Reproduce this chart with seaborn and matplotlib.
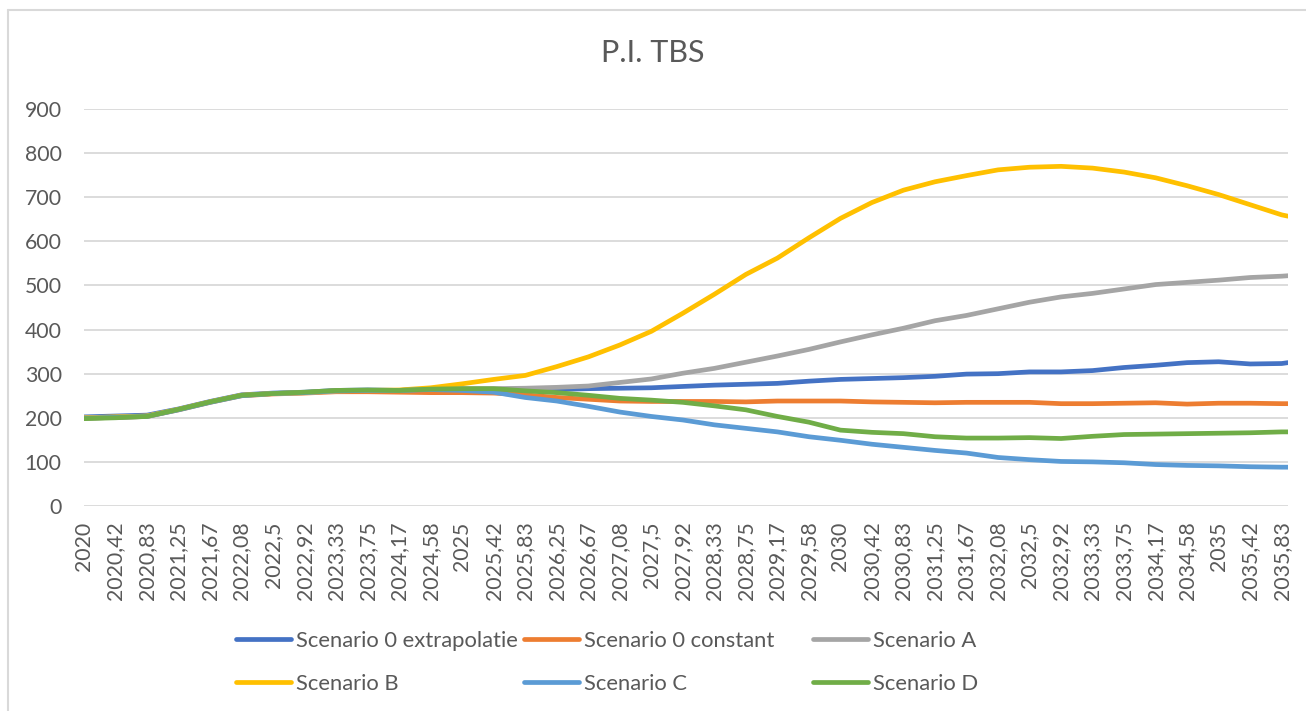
import matplotlib
matplotlib.use("Agg")
import matplotlib.pyplot as plt
from matplotlib.lines import Line2D
import numpy as np
import pandas as pd
import seaborn as sns

# Months since January 2020 at which each scenario is sampled
months = [0, 5, 10, 15, 20, 25, 30, 35, 40, 45, 50, 55, 60, 65, 70, 75, 80, 85, 90, 95,
          100, 105, 110, 115, 120, 125, 130, 135, 140, 145, 150, 155, 160, 165, 170, 175,
          180, 185, 190, 191]

tick_months = list(range(0, 191, 5))
tick_labels = ["2020", "2020,42", "2020,83", "2021,25", "2021,67", "2022,08", "2022,5",
               "2022,92", "2023,33", "2023,75", "2024,17", "2024,58", "2025", "2025,42",
               "2025,83", "2026,25", "2026,67", "2027,08", "2027,5", "2027,92", "2028,33",
               "2028,75", "2029,17", "2029,58", "2030", "2030,42", "2030,83", "2031,25",
               "2031,67", "2032,08", "2032,5", "2032,92", "2033,33", "2033,75", "2034,17",
               "2034,58", "2035", "2035,42", "2035,83"]

scen_0_extrapolatie = [202, 204, 206, 220, 237, 252, 256, 258, 262, 263, 262, 265, 265, 262,
                       262, 264, 266, 267, 268, 271, 274, 276, 278, 283, 287, 289, 291, 294,
                       299, 300, 304, 304, 307, 314, 319, 325, 327, 322, 323, 325]
scen_0_constant = [199, 201, 203, 218, 235, 250, 254, 256, 259, 259, 258, 257, 257, 256,
                   252, 246, 242, 238, 237, 237, 237, 236, 238, 238, 238, 236, 235, 234,
                   235, 235, 235, 232, 232, 233, 234, 231, 233, 233, 232, 232]
scen_a = [200, 202, 204, 219, 236, 251, 255, 257, 261, 262, 262, 265, 266, 266, 267, 269,
          272, 280, 288, 301, 312, 326, 340, 355, 372, 388, 403, 420, 432, 447, 462, 474,
          482, 492, 502, 507, 512, 518, 521, 522]
scen_b = [200, 202, 204, 219, 236, 251, 255, 257, 261, 262, 263, 268, 277, 287, 296, 316,
          338, 365, 396, 437, 480, 525, 562, 608, 652, 688, 716, 735, 749, 762, 768, 770,
          766, 757, 744, 726, 706, 683, 660, 657]
scen_c = [199, 201, 203, 218, 235, 250, 255, 257, 261, 262, 262, 264, 262, 258, 246, 238,
          226, 213, 203, 195, 184, 176, 168, 157, 149, 140, 133, 126, 120, 110, 105, 101,
          100, 98, 94, 92, 91, 89, 88, 88]
scen_d = [198, 200, 203, 219, 236, 251, 255, 258, 262, 263, 262, 265, 266, 266, 261, 257,
          251, 244, 240, 235, 227, 218, 203, 190, 172, 167, 164, 157, 154, 154, 155, 153,
          158, 162, 163, 164, 165, 166, 168, 168]

names = ["Scenario 0 extrapolatie", "Scenario 0 constant", "Scenario A",
         "Scenario B", "Scenario C", "Scenario D"]
values = [scen_0_extrapolatie, scen_0_constant, scen_a, scen_b, scen_c, scen_d]
colors = ["#4472C4", "#ED7D31", "#A5A5A5", "#FFC000", "#5B9BD5", "#70AD47"]

df = pd.concat(
    [pd.DataFrame({"month": months, "value": v, "scenario": n}) for n, v in zip(names, values)],
    ignore_index=True,
)

sns.set_theme(style="white")
plt.rcParams["font.family"] = ["Lato", "DejaVu Sans"]

W, H = 1306, 711
fig = plt.figure(figsize=(W / 100, H / 100), dpi=100)
ax = fig.add_axes([84 / W, 1 - 506 / H, (1288 - 84) / W, (506 - 109) / H])

sns.lineplot(data=df, x="month", y="value", hue="scenario", hue_order=names,
             palette=dict(zip(names, colors)), linewidth=3.4, legend=False,
             errorbar=None, sort=False, ax=ax,
             solid_capstyle="round", solid_joinstyle="round")

grey_txt = "#595959"
ax.set_xlim(0, 191)
ax.set_ylim(0, 900)
ax.set_yticks(range(0, 1000, 100))
ax.set_xticks(tick_months)
ax.set_xticklabels(tick_labels, rotation=90)
ax.set_xlabel("")
ax.set_ylabel("")
ax.yaxis.grid(True, color="#D9D9D9", linewidth=1.3)
ax.xaxis.grid(False)
ax.set_axisbelow(True)
for s in ax.spines.values():
    s.set_visible(False)
ax.tick_params(axis="both", length=0, labelsize=15.3, colors=grey_txt)
ax.tick_params(axis="y", pad=16)
ax.tick_params(axis="x", pad=11)

fig.text(0.5, 1 - 53 / H, "P.I. TBS", ha="center", va="center", fontsize=22, color=grey_txt)

# Legend: three columns of two entries each
handles = ax.get_lines()[:len(names)]
col_x = [236, 524, 813]
for c in range(3):
    idx = [c, c + 3]
    leg = fig.legend([handles[i] for i in idx], [names[i] for i in idx],
                     loc="center left", bbox_to_anchor=(col_x[c] / W, 1 - 662.5 / H),
                     frameon=False, borderpad=0, borderaxespad=0, fontsize=15.8,
                     handlelength=2.5, handletextpad=0.25, labelspacing=1.05)
    for t in leg.get_texts():
        t.set_color(grey_txt)

# Chart area border
fig.add_artist(Line2D([7.5 / W, 7.5 / W], [0, 1 - 10 / H], transform=fig.transFigure,
                      color="#D9D9D9", linewidth=1.5))
fig.add_artist(Line2D([7.5 / W, 1], [1 - 10 / H, 1 - 10 / H], transform=fig.transFigure,
                      color="#D9D9D9", linewidth=1.5))

fig.savefig("out.png", dpi=100)
